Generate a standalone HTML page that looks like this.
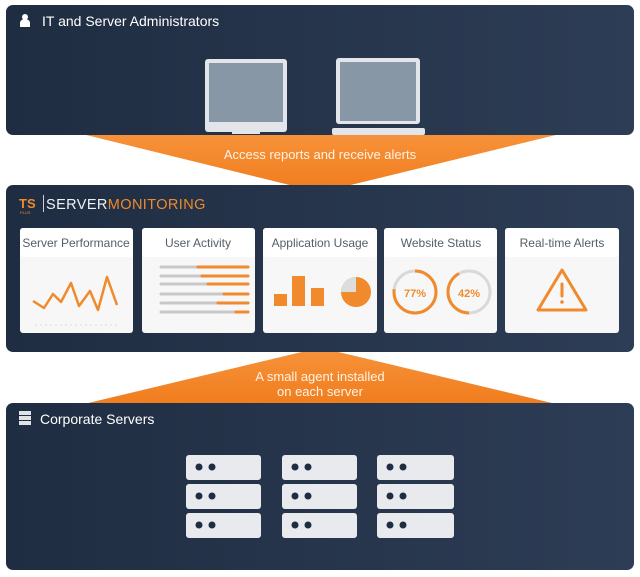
<!DOCTYPE html>
<html><head><meta charset="utf-8"><style>
html,body{margin:0;padding:0;background:#fff;width:640px;height:577px;overflow:hidden}
text{font-family:"Liberation Sans",sans-serif}
</style></head><body>
<svg width="640" height="577" viewBox="0 0 640 577" xmlns="http://www.w3.org/2000/svg">
<defs>
<linearGradient id="pg" x1="0" y1="0" x2="1" y2="0"><stop offset="0" stop-color="#1f2d42"/><stop offset="1" stop-color="#2d3d55"/></linearGradient>
<linearGradient id="og" x1="0" y1="0" x2="0" y2="1"><stop offset="0" stop-color="#f7923a"/><stop offset="1" stop-color="#f07d1e"/></linearGradient>
</defs>
<polygon points="82,134 560,134 330,190 310,190" fill="url(#og)"/>
<text x="320" y="159" font-size="13" fill="#fff3e6" text-anchor="middle">Access reports and receive alerts</text>
<polygon points="310,350 330,350 556,404 84,404" fill="url(#og)"/>
<text x="320" y="381" font-size="13" fill="#fff3e6" text-anchor="middle">A small agent installed</text>
<text x="320" y="396" font-size="13" fill="#fff3e6" text-anchor="middle">on each server</text>

<rect x="6" y="5" width="628" height="130" rx="7" fill="url(#pg)"/>
<circle cx="25" cy="17" r="3" fill="#fff"/><path d="M20,27 v-4 a5,4 0 0 1 10,0 v4z" fill="#fff"/>
<text x="42" y="26" font-size="14" fill="#fff">IT and Server Administrators</text>
<rect x="205" y="59" width="82" height="73" rx="3" fill="#e2e6ea"/>
<rect x="209" y="63" width="74" height="59" fill="#8797a6"/>
<rect x="241" y="125" width="9" height="6" fill="#e2e6ea"/>
<rect x="232" y="130" width="28" height="4" fill="#e2e6ea"/>
<rect x="336" y="58" width="84" height="66" rx="3" fill="#e2e6ea"/>
<rect x="340" y="62" width="76" height="59" fill="#8797a6"/>
<rect x="332" y="128" width="93" height="7" rx="2" fill="#e2e6ea"/>

<rect x="6" y="185" width="628" height="167" rx="7" fill="url(#pg)"/>
<text x="19" y="208" font-size="13" font-weight="bold" fill="#f08a2c">TS</text>
<text x="20" y="214" font-size="4" fill="#f08a2c">PLUS</text>
<rect x="43" y="195" width="1" height="17" fill="#c9d0da"/>
<text x="46" y="209" font-size="14.5" fill="#eef1f5" letter-spacing="0.4">SERVER<tspan fill="#f08a2c">MONITORING</tspan></text>

<g font-size="12" fill="#555d66" text-anchor="middle">
<rect x="20" y="228" width="113" height="105" rx="3" fill="#f7f7f8"/><rect x="20" y="228" width="113" height="29" rx="3" fill="#fff"/>
<text x="76" y="247">Server Performance</text>
<rect x="142" y="228" width="113" height="105" rx="3" fill="#f7f7f8"/><rect x="142" y="228" width="113" height="29" rx="3" fill="#fff"/>
<text x="198" y="247">User Activity</text>
<rect x="263" y="228" width="114" height="105" rx="3" fill="#f7f7f8"/><rect x="263" y="228" width="114" height="29" rx="3" fill="#fff"/>
<text x="320" y="247">Application Usage</text>
<rect x="384" y="228" width="113" height="105" rx="3" fill="#f7f7f8"/><rect x="384" y="228" width="113" height="29" rx="3" fill="#fff"/>
<text x="441" y="247">Website Status</text>
<rect x="505" y="228" width="114" height="105" rx="3" fill="#f7f7f8"/><rect x="505" y="228" width="114" height="29" rx="3" fill="#fff"/>
<text x="562" y="247">Real-time Alerts</text>
</g>
<polyline points="33,301 44,308 53,294 61,302 71,283 79,306 90,291 98,310 107,277 117,305" fill="none" stroke="#f08a2c" stroke-width="2.5" stroke-linejoin="round"/>
<line x1="35" y1="325" x2="120" y2="325" stroke="#ddd" stroke-width="1" stroke-dasharray="2,3"/>
<g stroke-width="3" stroke-linecap="round">
<line x1="161" y1="267" x2="248" y2="267" stroke="#c8c8c8"/><line x1="198" y1="267" x2="248" y2="267" stroke="#f08a2c"/>
<line x1="161" y1="276" x2="248" y2="276" stroke="#c8c8c8"/><line x1="202" y1="276" x2="248" y2="276" stroke="#f08a2c"/>
<line x1="161" y1="284" x2="248" y2="284" stroke="#c8c8c8"/><line x1="208" y1="284" x2="248" y2="284" stroke="#f08a2c"/>
<line x1="161" y1="294" x2="248" y2="294" stroke="#c8c8c8"/><line x1="224" y1="294" x2="248" y2="294" stroke="#f08a2c"/>
<line x1="161" y1="303" x2="248" y2="303" stroke="#c8c8c8"/><line x1="218" y1="303" x2="248" y2="303" stroke="#f08a2c"/>
<line x1="161" y1="312" x2="248" y2="312" stroke="#c8c8c8"/><line x1="236" y1="312" x2="248" y2="312" stroke="#f08a2c"/>
</g>
<rect x="274" y="294" width="13" height="12" fill="#f08a2c"/>
<rect x="292" y="276" width="13" height="30" fill="#f08a2c"/>
<rect x="311" y="288" width="13" height="18" fill="#f08a2c"/>
<circle cx="356" cy="292" r="15" fill="#f08a2c"/>
<path d="M356,292 L356,277 A15,15 0 0 0 341,292 Z" fill="#ddd"/>
<circle cx="415" cy="292" r="21" fill="none" stroke="#d9d9d9" stroke-width="3"/>
<circle cx="415" cy="292" r="21" fill="none" stroke="#f08a2c" stroke-width="3" stroke-dasharray="101.6 132" transform="rotate(-90 415 292)"/>
<text x="415" y="297" font-size="11" font-weight="bold" fill="#f08a2c" text-anchor="middle">77%</text>
<circle cx="469" cy="292" r="21" fill="none" stroke="#d9d9d9" stroke-width="3"/>
<circle cx="469" cy="292" r="21" fill="none" stroke="#f08a2c" stroke-width="3" stroke-dasharray="55.4 132" transform="rotate(90 469 292)"/>
<text x="469" y="297" font-size="11" font-weight="bold" fill="#f08a2c" text-anchor="middle">42%</text>
<path d="M562,270 L586,310 L538,310 Z" fill="none" stroke="#f08a2c" stroke-width="3" stroke-linejoin="round"/>
<line x1="562" y1="284" x2="562" y2="296" stroke="#f08a2c" stroke-width="3" stroke-linecap="round"/>
<circle cx="562" cy="302" r="1.8" fill="#f08a2c"/>

<rect x="6" y="403" width="628" height="167" rx="7" fill="url(#pg)"/>
<rect x="19" y="411" width="12" height="4" fill="#dfe3e8"/><rect x="19" y="416" width="12" height="4" fill="#dfe3e8"/><rect x="19" y="421" width="12" height="4" fill="#dfe3e8"/>
<text x="40" y="424" font-size="14" fill="#fff">Corporate Servers</text>
<g fill="#e8eaed">
<rect x="186" y="455" width="75" height="25" rx="3"/><rect x="186" y="484" width="75" height="25" rx="3"/><rect x="186" y="513" width="75" height="25" rx="3"/>
<rect x="282" y="455" width="75" height="25" rx="3"/><rect x="282" y="484" width="75" height="25" rx="3"/><rect x="282" y="513" width="75" height="25" rx="3"/>
<rect x="377" y="455" width="77" height="25" rx="3"/><rect x="377" y="484" width="77" height="25" rx="3"/><rect x="377" y="513" width="77" height="25" rx="3"/>
</g>
<g fill="#1f2d42">
<circle cx="199" cy="467" r="3.5"/><circle cx="212" cy="467" r="3.5"/><circle cx="199" cy="496" r="3.5"/><circle cx="212" cy="496" r="3.5"/><circle cx="199" cy="525" r="3.5"/><circle cx="212" cy="525" r="3.5"/>
<circle cx="295" cy="467" r="3.5"/><circle cx="308" cy="467" r="3.5"/><circle cx="295" cy="496" r="3.5"/><circle cx="308" cy="496" r="3.5"/><circle cx="295" cy="525" r="3.5"/><circle cx="308" cy="525" r="3.5"/>
<circle cx="390" cy="467" r="3.5"/><circle cx="403" cy="467" r="3.5"/><circle cx="390" cy="496" r="3.5"/><circle cx="403" cy="496" r="3.5"/><circle cx="390" cy="525" r="3.5"/><circle cx="403" cy="525" r="3.5"/>
</g>
</svg>
</body></html>
